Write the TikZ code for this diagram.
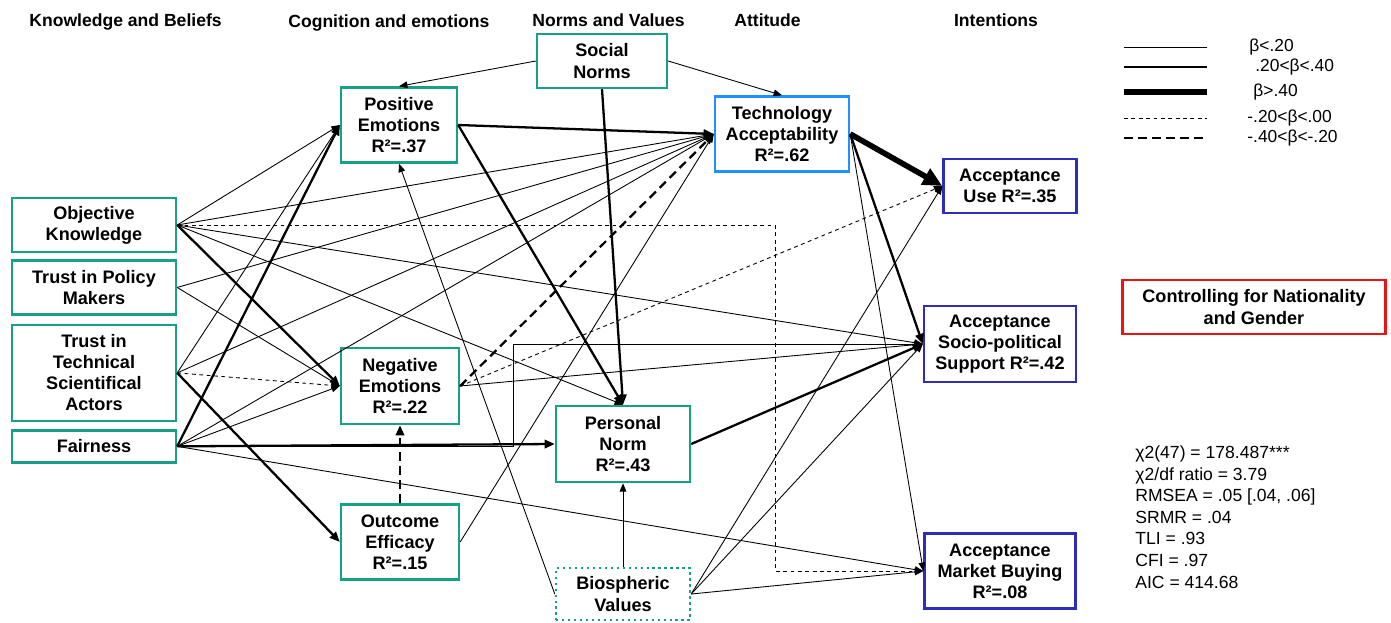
\documentclass[tikz,border=0pt]{standalone}
\usepackage{fontspec}
\setmainfont{Liberation Sans}
\usepackage{tikz}
\usetikzlibrary{arrows.meta,positioning}
\definecolor{boxgreen}{RGB}{22,160,133}
\definecolor{tablue}{RGB}{30,144,255}
\definecolor{accblue}{RGB}{45,45,185}
\definecolor{ctrlred}{RGB}{235,20,20}
\tikzset{
  box/.style={draw=boxgreen,line width=1.4pt,fill=white,inner sep=0pt,
    align=center,font=\fontsize{10.3}{12}\selectfont\bfseries},
  tabox/.style={box,draw=tablue},
  accbox/.style={box,draw=accblue},
  hdr/.style={font=\fontsize{10}{12}\selectfont\bfseries,inner sep=0pt},
  leg/.style={font=\fontsize{9.9}{12}\selectfont,inner sep=0pt,anchor=west},
  lnA/.style={line width=0.5pt},
  lnB/.style={line width=1.3pt},
  lnC/.style={line width=3.2pt},
  lnD/.style={lnA,dash pattern=on 2.2pt off 2pt},
  lnE/.style={lnB,dash pattern=on 5pt off 3pt},
  arr/.style={lnA,-{Triangle[length=4.8pt,width=3.8pt]}},
  arrb/.style={lnB,-{Triangle[length=5.8pt,width=4.8pt]}},
  arrh/.style={lnC,-{Triangle[length=11pt,width=10pt]}},
  dsh/.style={lnD,-{Triangle[length=4.8pt,width=3.8pt]}},
  dshb/.style={lnE,-{Triangle[length=5.8pt,width=4.8pt]}},
}

\begin{document}
\begin{tikzpicture}[x=0.02cm,y=-0.02cm]
  \useasboundingbox (0,0) rectangle (1391,622);

  % column headers
  \node[hdr,anchor=west] (hkb) at (29,22) {Knowledge and Beliefs};
  \node[hdr,anchor=west] (hce) at (288,23) {Cognition and emotions};
  \node[hdr,anchor=west] (hnv) at (532,20) {Norms and Values};
  \node[hdr,anchor=west] (hat) at (734,20) {Attitude};
  \node[hdr] (hin) at (996,20) {Intentions};

  % knowledge and beliefs
  \node[box,minimum width=3.28cm,minimum height=1.08cm] (ok) at (94,225) {Objective\\Knowledge};
  \node[box,minimum width=3.28cm,minimum height=1.08cm,below=0.12cm of ok] (tpm) {Trust in Policy\\Makers};
  \node[box,minimum width=3.28cm,minimum height=1.92cm,below=0.16cm of tpm] (tts) {Trust in\\Technical\\Scientifical\\Actors};
  \node[box,minimum width=3.28cm,minimum height=0.64cm,below=0.14cm of tts] (fair) {Fairness};

  % cognition and emotions
  \node[box,minimum width=2.32cm,minimum height=1.5cm] (pe) at (399,125) {Positive\\Emotions\\R²=.37};
  \node[box,minimum width=2.36cm,minimum height=1.52cm] (ne) at (400,386) {Negative\\Emotions\\R²=.22};
  \node[box,minimum width=2.36cm,minimum height=1.5cm,below=1.56cm of ne] (oe) {Outcome\\Efficacy\\R²=.15};

  % norms and values
  \node[box,minimum width=2.6cm,minimum height=1.08cm] (sn) at (602,61) {Social\\Norms};
  \node[box,minimum width=2.68cm,minimum height=1.52cm] (pn) at (623,444) {Personal\\Norm\\R²=.43};
  \node[box,dotted,minimum width=2.68cm,minimum height=1.04cm] (bv) at (623,594) {Biospheric\\Values};

  % attitude and intentions
  \node[tabox,minimum width=2.68cm,minimum height=1.5cm] (ta) at (782,134) {Technology\\Acceptability\\R²=.62};
  \node[accbox,minimum width=2.66cm,minimum height=1.08cm] (asu) at (1010,186) {Acceptance\\Use R²=.35};
  \node[accbox,minimum width=3.04cm,minimum height=1.52cm] (ass) at (1000,344) {Acceptance\\Socio-political\\Support R²=.42};
  \node[accbox,minimum width=3.02cm,minimum height=1.5cm] (mb) at (1000,571) {Acceptance\\Market Buying\\R²=.08};

  \node[box,draw=ctrlred,minimum width=5.26cm,minimum height=1.08cm] (ctrl) at (1254,307) {Controlling for Nationality\\and Gender};

  % paths
  \foreach \a/\b in {ok.east/pe.west,ok.east/ta.west,ok.east/pn.north,ok.east/ass.west,
      tpm.east/ta.west,tpm.east/ne.west,tts.east/pe.west,tts.east/ta.west,
      fair.east/ta.west,fair.east/ne.west,fair.east/mb.west,
      sn.west/pe.north,sn.east/ta.north,bv.west/pe.south,bv.north/pn.south,
      bv.east/asu.west,bv.east/ass.west,bv.east/mb.west,
      ne.east/ass.west,oe.east/ta.west,ta.east/mb.west}
    \draw[arr] (\a) -- (\b);
  \foreach \a/\b in {ok.east/ne.west,tts.east/oe.west,fair.east/pe.west,fair.east/pn.west,
      pe.east/ta.west,pe.east/pn.north,sn.south/pn.north,ta.east/ass.west,pn.east/ass.west}
    \draw[arrb] (\a) -- (\b);
  \draw[arrh] (ta.east) -- (asu.west);
  \draw[dsh] (tts.east) -- (ne.west);
  \draw[dsh] (ne.east) -- (asu.west);
  \draw[dshb] (ne.east) -- (ta.west);
  \draw[dshb] (oe.north) -- (ne.south);

  % elbows
  \coordinate (okx) at (775,0);
  \coordinate (fx) at (513,0);
  \draw[dsh] (ok.east) -- (ok.east -| okx) |- (mb.west);
  \draw[arr] (fair.east) -- (fair.east -| fx) |- (ass.west);

  % legend
  \foreach \s/\y/\x/\t in {lnA/47/1249/{β<.20},lnB/67/1255/{.20<β<.40},lnC/92/1253/{β>.40},
      lnD/118/1247/{-.20<β<.00},lnE/138/1247/{-.40<β<-.20}} {
    \coordinate (la\s) at (1124,\y);
    \coordinate (lb\s) at (1207,\y);
    \draw[\s] (la\s) -- (lb\s);
    \node[leg] (t\s) at (\x,\y) {\t};
  }

  % fit indices
  \node[font=\fontsize{10}{12.3}\selectfont,align=left,anchor=west,inner sep=0pt] (fit) at (1135,517)
    {χ2(47) = 178.487***\\χ2/df ratio = 3.79\\RMSEA = .05 [.04, .06]\\SRMR = .04\\TLI = .93\\CFI = .97\\AIC = 414.68};
\end{tikzpicture}
\end{document}
